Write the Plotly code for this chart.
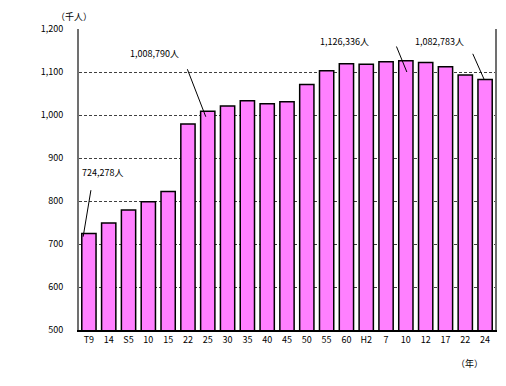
import plotly.graph_objects as go

categories = ["T9", "14", "S5", "10", "15", "22", "25", "30", "35", "40", "45",
              "50", "55", "60", "H2", "7", "10", "12", "17", "22", "24"]
values = [724.278, 749, 779, 798, 822, 979, 1008.790, 1021, 1033, 1026, 1031,
          1071, 1103, 1119, 1118, 1124, 1126.336, 1122, 1112, 1093, 1082.783]
y_ticks = [500, 600, 700, 800, 900, 1000, 1100, 1200]

FONT = "Noto Sans CJK JP"
idx = list(range(len(categories)))

fig = go.Figure()
fig.add_trace(go.Bar(
    x=idx, y=values, width=0.72,
    marker=dict(color="#FF80FF", line=dict(color="#000000", width=1.5)),
    hoverinfo="skip",
))

# value callouts: (text, text x, text y, tip x, tip y, tail offset ax, ay)
callouts = [
    ("724,278人", 0.71, 867, -0.29, 717, 8, -48),
    ("1,008,790人", 3.32, 1144, 5.9, 996, -19, -49),
    ("1,126,336人", 12.92, 1170, 16.05, 1100, -11, -27),
    ("1,082,783人", 17.69, 1170, 19.95, 1083, -12, -27),
]
for text, tx, ty, px, py, ax, ay in callouts:
    fig.add_annotation(x=tx, y=ty, xref="x", yref="y", text=text, showarrow=False,
                       font=dict(family=FONT, size=9, color="#000"))
    fig.add_annotation(x=px, y=py, xref="x", yref="y", text="", showarrow=True,
                       arrowhead=0, arrowwidth=1, arrowcolor="#000", ax=ax, ay=ay,
                       standoff=0, startstandoff=0)

fig.add_annotation(x=0, y=1.0, xref="paper", yref="paper", text="（千人）",
                   showarrow=False, xanchor="right", yanchor="bottom", xshift=15, yshift=4,
                   font=dict(family=FONT, size=9, color="#000"))
fig.add_annotation(x=1, y=0, xref="paper", yref="paper", text="（年）",
                   showarrow=False, xanchor="right", yanchor="top", xshift=-10, yshift=-25,
                   font=dict(family=FONT, size=9, color="#000"))

fig.update_layout(
    width=498, height=378,
    margin=dict(l=71, r=9, t=21, b=56),
    paper_bgcolor="white", plot_bgcolor="white",
    showlegend=False,
    font=dict(family=FONT, size=9, color="#000"),
    bargap=0.28,
)
fig.update_xaxes(
    range=[-0.5, len(categories) - 0.5],
    tickmode="array", tickvals=idx, ticktext=categories,
    showgrid=False, showline=True, linecolor="#000", linewidth=1.5,
    ticks="", tickfont=dict(family=FONT, size=9), zeroline=False,
)
fig.update_yaxes(
    range=[500, 1200], tickvals=y_ticks, tickformat=",",
    showgrid=True, gridcolor="#404040", griddash="3px,2px", gridwidth=1,
    showline=True, linecolor="#707070", linewidth=2, mirror=True,
    ticks="", tickfont=dict(family=FONT, size=9), zeroline=False,
    ticklabelstandoff=12,
)

fig.write_html("out.html")
